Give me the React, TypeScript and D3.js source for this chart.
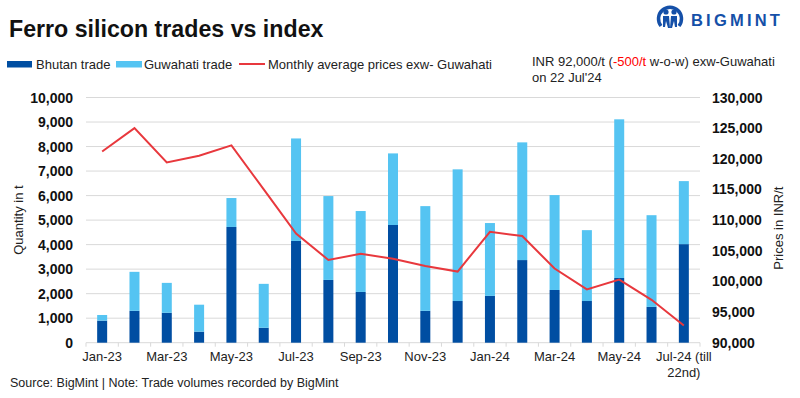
import React from "react";
import * as d3 from "d3";

const months = [
  "Jan-23", "Feb-23", "Mar-23", "Apr-23", "May-23", "Jun-23", "Jul-23", "Aug-23", "Sep-23", "Oct-23",
  "Nov-23", "Dec-23", "Jan-24", "Feb-24", "Mar-24", "Apr-24", "May-24", "Jun-24", "Jul-24",
];
const bhutan = [900, 1300, 1220, 450, 4720, 610, 4150, 2560, 2070, 4800, 1300, 1700, 1910, 3370, 2150, 1700, 2640, 1460, 4020];
const guwahati = [230, 1590, 1220, 1100, 1180, 1790, 4180, 3420, 3300, 2920, 4270, 5370, 2970, 4800, 3870, 2890, 6470, 3740, 2570];
const prices = [121200, 125000, 119400, 120500, 122200, 115000, 107800, 103500, 104500, 103700, 102500, 101600, 108100, 107400, 102100, 98700, 100300, 97000, 92800];
const qtyTicks = [0, 1000, 2000, 3000, 4000, 5000, 6000, 7000, 8000, 9000, 10000];
const priceTicks = [90000, 95000, 100000, 105000, 110000, 115000, 120000, 125000, 130000];

const DARK = "#004ea2";
const LIGHT = "#55c4f2";
const RED = "#e8383d";
const GRID = "#d9d9d9";
const FONT = "'Liberation Sans', Arial, sans-serif";

export default function App() {
  const W = 800, H = 398;
  const left = 86, right = 700, top = 97.5, bottom = 342.7;
  const x = d3.scaleBand<string>().domain(months).range([left, right]).padding(0);
  const yQ = d3.scaleLinear().domain([0, 10000]).range([bottom, top]);
  const yP = d3.scaleLinear().domain([90000, 130000]).range([bottom, top]);
  const bw = 10;
  const fmt = d3.format(",");
  const line = d3
    .line<number>()
    .x((_, i) => (x(months[i]) as number) + x.bandwidth() / 2)
    .y((d) => yP(d));

  return (
    <svg width={W} height={H} style={{ position: "absolute", left: 0, top: 0, background: "#fff" }} fontFamily={FONT}>
      <rect width={W} height={H} fill="#fff" />
      <text x={9} y={37} fontSize={23.2} fontWeight="bold" fill="#111">Ferro silicon trades vs index</text>

      {/* logo */}
      <g>
        <path d="M 661 26 A 11.5 11.5 0 1 1 679 26" fill="none" stroke="#1550a8" strokeWidth={3.5} />
        <circle cx={666} cy={12} r={2.6} fill="#1550a8" />
        <circle cx={674} cy={12} r={2.6} fill="#1550a8" />
        <path d="M 663 16 L 669 16 L 670 28 L 668 28 L 666 21 L 665 27 L 663 27 Z" fill="#1550a8" />
        <path d="M 671 16 L 677 16 L 677 27 L 675 27 L 674 21 L 672 28 L 670 28 Z" fill="#1550a8" />
        <text x={691} y={25.5} fontSize={16.5} fontWeight="bold" fill="#1550a8" letterSpacing={3.2}>BIGMINT</text>
      </g>

      {/* legend */}
      <rect x={7} y={61} width={25} height={6.5} fill={DARK} />
      <text x={36} y={68.5} fontSize={13} fill="#222">Bhutan trade</text>
      <rect x={116} y={61} width={26} height={6.5} fill={LIGHT} />
      <text x={144} y={68.5} fontSize={13} fill="#222">Guwahati trade</text>
      <line x1={239} x2={265} y1={64} y2={64} stroke={RED} strokeWidth={2} />
      <text x={268} y={68.5} fontSize={13} fill="#222">Monthly average prices exw- Guwahati</text>

      {/* annotation */}
      <text x={532} y={66} fontSize={13} fill="#222">
        INR 92,000/t (<tspan fill="#ff0000">-500/t</tspan> w-o-w) exw-Guwahati
      </text>
      <text x={532} y={81.5} fontSize={13} fill="#222">on 22 Jul'24</text>

      {/* grid */}
      {qtyTicks.slice(1).map((t) => (
        <line key={t} x1={left} x2={right} y1={yQ(t)} y2={yQ(t)} stroke={GRID} strokeWidth={1} />
      ))}
      <line x1={left} x2={right} y1={bottom} y2={bottom} stroke={GRID} strokeWidth={1} />
      {d3.range(months.length + 1).map((i) => {
        const xx = left + i * x.bandwidth();
        return <line key={i} x1={xx} x2={xx} y1={bottom} y2={bottom + 4} stroke={GRID} strokeWidth={1} />;
      })}

      {/* bars */}
      {months.map((m, i) => {
        const cx = (x(m) as number) + x.bandwidth() / 2;
        return (
          <g key={m}>
            <rect x={cx - bw / 2} width={bw} y={yQ(bhutan[i])} height={yQ(0) - yQ(bhutan[i])} fill={DARK} />
            <rect x={cx - bw / 2} width={bw} y={yQ(bhutan[i] + guwahati[i])} height={yQ(bhutan[i]) - yQ(bhutan[i] + guwahati[i])} fill={LIGHT} />
          </g>
        );
      })}

      <path d={line(prices) || ""} fill="none" stroke={RED} strokeWidth={2} />

      {/* left axis */}
      {qtyTicks.map((t) => (
        <text key={t} x={73} y={yQ(t) + 5} textAnchor="end" fontSize={14} fontWeight="bold" fill="#111">{fmt(t)}</text>
      ))}
      <text transform={`translate(23,${(top + bottom) / 2}) rotate(-90)`} textAnchor="middle" fontSize={13} fill="#222">Quantity in t</text>

      {/* right axis */}
      {priceTicks.map((t) => (
        <text key={t} x={712} y={yP(t) + 5} fontSize={14} fontWeight="bold" fill="#111">{fmt(t)}</text>
      ))}
      <text transform={`translate(783,${(top + bottom) / 2 + 8}) rotate(-90)`} textAnchor="middle" fontSize={13} fill="#222">Prices in INR/t</text>

      {/* x labels */}
      {months.map((m, i) => {
        if (i % 2 !== 0) return null;
        const cx = (x(m) as number) + x.bandwidth() / 2;
        if (i === months.length - 1) {
          return (
            <text key={m} x={cx} y={361} textAnchor="middle" fontSize={13} fill="#222">
              <tspan x={cx} y={361}>{m} (till</tspan>
              <tspan x={cx} y={377}>22nd)</tspan>
            </text>
          );
        }
        return <text key={m} x={cx} y={361} textAnchor="middle" fontSize={13} fill="#222">{m}</text>;
      })}

      <text x={10} y={387} fontSize={12.5} fill="#222">Source: BigMint | Note: Trade volumes recorded by BigMint</text>
    </svg>
  );
}
